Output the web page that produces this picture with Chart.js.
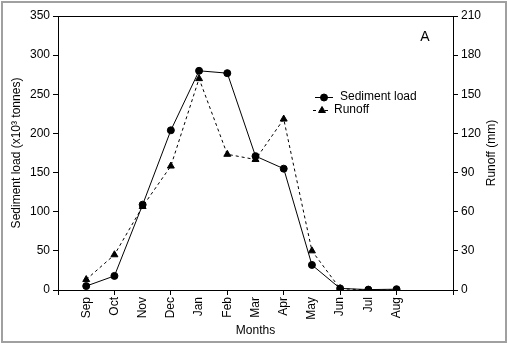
<!DOCTYPE html>
<html>
<head>
<meta charset="utf-8">
<script src="https://cdn.jsdelivr.net/npm/chart.js@4.4.0/dist/chart.umd.min.js"></script>
<style>
html,body{margin:0;padding:0;background:#fff;}
canvas{display:block;}
</style>
</head>
<body>
<canvas id="c" width="508" height="343"></canvas>
<script>
const months = ['Sep','Oct','Nov','Dec','Jan','Feb','Mar','Apr','May','Jun','Jul','Aug'];
const sedimentLoad = [5, 18, 109, 204, 280, 277, 171, 155, 32, 2, 0.5, 1];
const runoff = [8, 27, 64, 95, 162, 104, 100, 131, 30, 1, 0, 0];
const leftTicks = [0, 50, 100, 150, 200, 250, 300, 350];
const rightTicks = [0, 30, 60, 90, 120, 150, 180, 210];

const FONT = 'Liberation Sans, Arial, sans-serif';

const sedPts = months.map((m, i) => ({x: i, y: sedimentLoad[i]}));
const runPts = months.map((m, i) => ({x: i, y: runoff[i]}));

const decor = {
  id: 'decor',
  beforeDraw(chart) {
    const c = chart.ctx;
    c.save();
    c.fillStyle = '#fff';
    c.fillRect(0, 0, chart.width, chart.height);
    c.strokeStyle = '#a0a0a0';
    c.lineWidth = 2;
    c.strokeRect(2, 2, 504, 340);
    c.restore();
  },
  afterDraw(chart) {
    const c = chart.ctx;
    const a = chart.chartArea;
    c.save();
    c.strokeStyle = '#000';
    c.lineWidth = 1;
    c.strokeRect(Math.round(a.left) + 0.5, Math.round(a.top) + 0.5, Math.round(a.right - a.left), Math.round(a.bottom - a.top));
    // panel letter
    c.fillStyle = '#000';
    c.font = '14px ' + FONT;
    c.textAlign = 'center';
    c.textBaseline = 'middle';
    c.fillText('A', 425, 37);
    // axis titles
    c.font = '12px ' + FONT;
    c.fillText('Months', (a.left + a.right) / 2, 331);
    c.save();
    c.translate(17, (a.top + a.bottom) / 2);
    c.rotate(-Math.PI / 2);
    c.fillText('Sediment load (x10\u00B3 tonnes)', 0, 0);
    c.restore();
    c.save();
    c.translate(492, (a.top + a.bottom) / 2);
    c.rotate(-Math.PI / 2);
    c.fillText('Runoff (mm)', 0, 0);
    c.restore();
    // legend
    const ds = chart.data.datasets;
    const rows = [
      {d: ds[0], x1: 315, x2: 333, mx: 324, tx: 340, y: 97},
      {d: ds[1], x1: 313, x2: 331, mx: 322, tx: 334, y: 110}
    ];
    rows.forEach(r => {
      c.strokeStyle = '#000';
      c.lineWidth = 1;
      c.setLineDash(r.d.borderDash || []);
      c.beginPath();
      c.moveTo(r.x1, r.y + 0.5);
      c.lineTo(r.x2, r.y + 0.5);
      c.stroke();
      c.setLineDash([]);
      c.fillStyle = '#000';
      Chart.helpers.drawPoint(c, {pointStyle: r.d.pointStyle, radius: r.d.pointRadius, rotation: 0, borderWidth: 1}, r.mx, r.y + 0.5);
      c.fillText;
      c.textAlign = 'left';
      c.textBaseline = 'middle';
      c.font = '12px ' + FONT;
      c.fillText(r.d.label, r.tx, r.y);
    });
    c.restore();
  }
};

new Chart(document.getElementById('c'), {
  type: 'line',
  data: {
    datasets: [
      {
        label: 'Sediment load',
        data: sedPts,
        yAxisID: 'y',
        borderColor: '#000',
        backgroundColor: '#000',
        borderWidth: 1,
        pointStyle: 'circle',
        pointRadius: 3.5,
        pointBorderWidth: 1,
        tension: 0
      },
      {
        label: 'Runoff',
        data: runPts,
        yAxisID: 'y2',
        borderColor: '#000',
        backgroundColor: '#000',
        borderWidth: 1,
        borderDash: [3, 3],
        pointStyle: 'triangle',
        pointRadius: 4,
        pointBorderWidth: 1,
        tension: 0
      }
    ]
  },
  options: {
    responsive: false,
    animation: false,
    layout: {padding: {top: 16, left: 0, right: 0, bottom: 0}},
    plugins: {legend: {display: false}, tooltip: {enabled: false}},
    scales: {
      x: {
        type: 'linear',
        min: -1,
        max: 13,
        afterFit(s) { s.height = 53; },
        afterBuildTicks(s) {
          const t = [];
          for (let v = -1; v <= 13; v++) t.push({value: v});
          s.ticks = t;
        },
        ticks: {
          autoSkip: false,
          minRotation: 90,
          maxRotation: 90,
          padding: 2,
          color: '#000',
          font: {family: FONT, size: 12},
          callback: (v) => (v >= 0 && v < months.length) ? months[v] : ''
        },
        grid: {
          drawOnChartArea: false,
          drawTicks: true,
          tickLength: 5,
          color: '#000',
          tickColor: (ctx) => (ctx.tick && Math.abs(ctx.tick.value % 2) === 1) ? '#000' : 'rgba(0,0,0,0)'
        },
        border: {display: true, color: '#000', width: 1}
      },
      y: {
        type: 'linear',
        position: 'left',
        min: 0,
        max: 350,
        afterFit(s) { s.width = 58; },
        afterBuildTicks(s) { s.ticks = leftTicks.map(v => ({value: v})); },
        ticks: {padding: 3, color: '#000', font: {family: FONT, size: 12}},
        grid: {drawOnChartArea: false, drawTicks: true, tickLength: 5, color: '#000', tickColor: '#000'},
        border: {display: true, color: '#000', width: 1}
      },
      y2: {
        type: 'linear',
        position: 'right',
        min: 0,
        max: 210,
        afterFit(s) { s.width = 55; },
        afterBuildTicks(s) { s.ticks = rightTicks.map(v => ({value: v})); },
        ticks: {padding: 3, color: '#000', font: {family: FONT, size: 12}},
        grid: {drawOnChartArea: false, drawTicks: true, tickLength: 5, color: '#000', tickColor: '#000'},
        border: {display: true, color: '#000', width: 1}
      }
    }
  },
  plugins: [decor]
});
</script>
</body>
</html>
